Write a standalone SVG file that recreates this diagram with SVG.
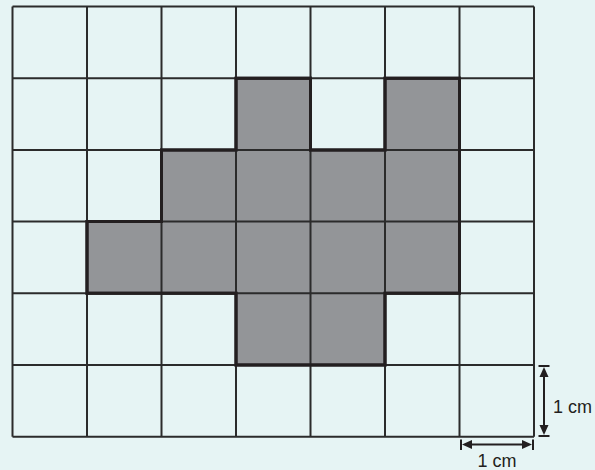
<svg xmlns="http://www.w3.org/2000/svg" width="595" height="470" viewBox="0 0 595 470">
<style>
.g{stroke:#2b2b2b;stroke-width:2;fill:none}
.shape{fill:#939598;stroke:#231f20;stroke-width:3;stroke-linejoin:miter}
.dim{stroke:#231f20;stroke-width:2;fill:none}
.head{fill:#231f20}
.lbl{font-family:"Liberation Sans",Arial,sans-serif;font-size:18px;fill:#231f20}
</style>
<rect width="595" height="470" fill="#e6f4f4"/>
<g id="shape">
<path class="shape" d="M236,78.2 H310.5 V149.9 H385 V78.2 H459.5 V293.3 H385 V365 H236 V293.3 H87 V221.6 H161.5 V149.9 H236 Z"/>
</g>
<g id="grid">
<path class="g" d="M12.5,6.5 V436.7 M87,6.5 V436.7 M161.5,6.5 V436.7 M236,6.5 V436.7 M310.5,6.5 V436.7 M385,6.5 V436.7 M459.5,6.5 V436.7 M534,6.5 V436.7"/>
<path class="g" d="M12.5,6.5 H534 M12.5,78.2 H534 M12.5,149.9 H534 M12.5,221.6 H534 M12.5,293.3 H534 M12.5,365 H534 M12.5,436.7 H534"/>
</g>
<g id="outline">
<path class="shape" style="fill:none" d="M236,78.2 H310.5 V149.9 H385 V78.2 H459.5 V293.3 H385 V365 H236 V293.3 H87 V221.6 H161.5 V149.9 H236 Z"/>
</g>
<g id="connectors">
<path class="dim" d="M538.5,366 H549.5 M538.5,436 H549.5"/>
<line class="dim" x1="544" y1="372" x2="544" y2="430"/>
<polygon class="head" points="544,367 539.5,377 548.5,377"/>
<polygon class="head" points="544,435 539.5,425 548.5,425"/>
<path class="dim" d="M461,439.5 V450 M533,439.5 V450"/>
<line class="dim" x1="466" y1="444.5" x2="528" y2="444.5"/>
<polygon class="head" points="462,444.5 472,440 472,449"/>
<polygon class="head" points="532,444.5 522,440 522,449"/>
</g>
<g id="labels">
<text class="lbl" x="553" y="413">1 cm</text>
<text class="lbl" x="497" y="466.5" text-anchor="middle">1 cm</text>
</g>
</svg>
